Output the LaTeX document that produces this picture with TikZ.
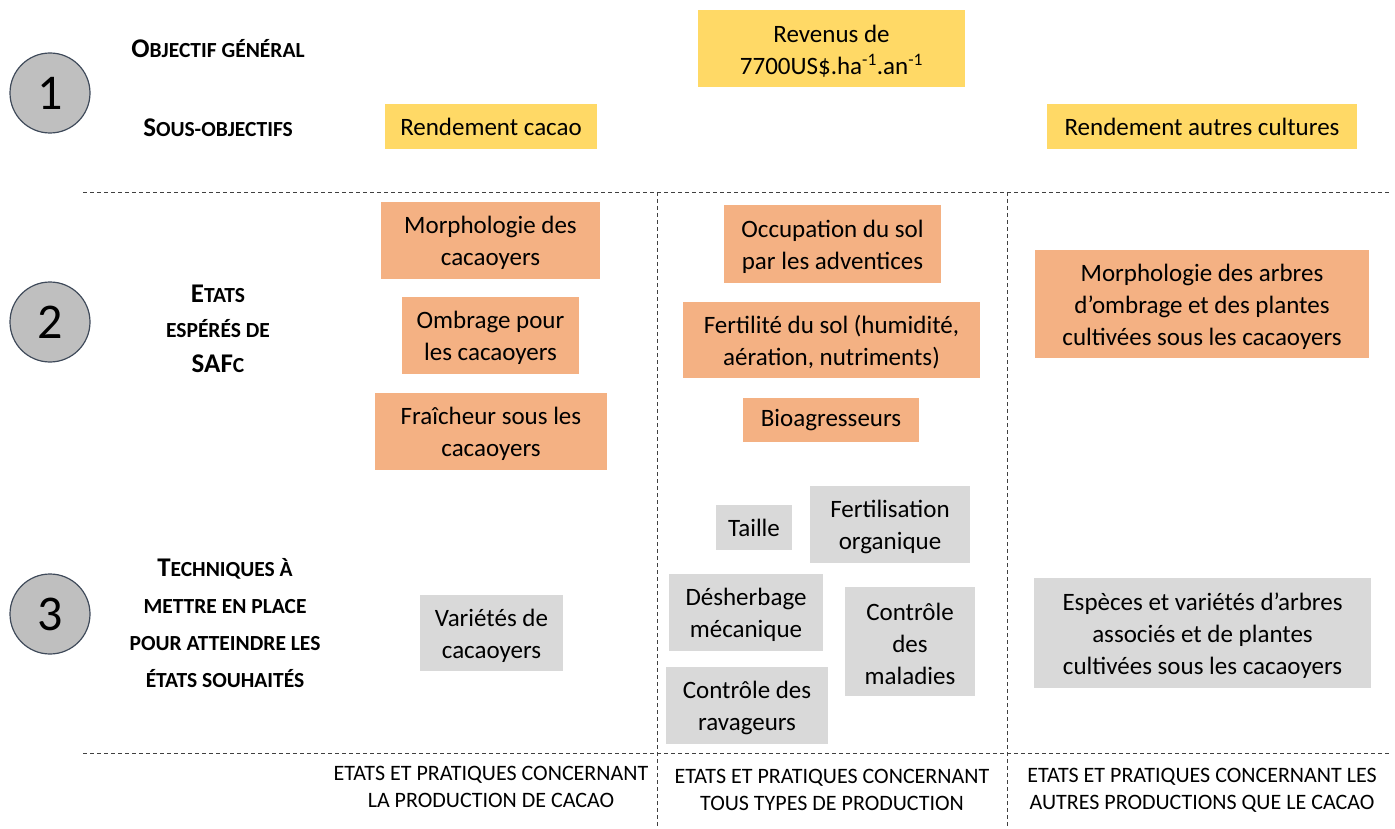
\documentclass[tikz,border=0pt]{standalone}
\usepackage{fontspec}
\setmainfont{Carlito}
\definecolor{cyel}{HTML}{FFD966}
\definecolor{corg}{HTML}{F4B183}
\definecolor{cgry}{HTML}{D9D9D9}
\definecolor{ccirc}{HTML}{BFBFBF}
\definecolor{cedge}{HTML}{3F4A5A}
\newcommand\bigL[1]{{\fontsize{27}{37}\selectfont #1}}
\newcommand\tp{\rule{0pt}{22.5pt}}
\tikzset{
  box/.style={inner sep=0pt, align=center, font=\fontsize{25}{32}\selectfont},
  yel/.style={box, fill=cyel},
  org/.style={box, fill=corg},
  gry/.style={box, fill=cgry},
  num/.style={circle, draw=cedge, line width=1.2pt, fill=ccirc, minimum size=80pt, inner sep=0pt, font=\fontsize{50}{50}\selectfont},
  lab/.style={align=center, font=\bfseries\fontsize{21.5}{37}\selectfont},
  foot/.style={align=center, font=\fontsize{22}{27}\selectfont},
  sep/.style={draw=black!75, line width=0.8pt, dash pattern=on 4pt off 3pt},
}
\begin{document}
\begin{tikzpicture}[x=1pt,y=-1pt]
\useasboundingbox (0,0) rectangle (1395,829);
% separators
\coordinate (h1a) at (83,192); \coordinate (h1b) at (1390,192);
\coordinate (h2a) at (83,753); \coordinate (h2b) at (1390,753);
\coordinate (v1a) at (657,192); \coordinate (v1b) at (657,829);
\coordinate (v2a) at (1007,192); \coordinate (v2b) at (1007,829);
\draw[sep] (h1a) -- (h1b);
\draw[sep] (h2a) -- (h2b);
\draw[sep] (v1a) -- (v1b);
\draw[sep] (v2a) -- (v2b);
% circles
\node[num] (c1) at (50,93) {1};
\node[num] (c2) at (50,322) {2};
\node[num] (c3) at (50,614) {3};
% left labels
\node[lab] (l1) at (218,49) {\bigL{O}BJECTIF GÉNÉRAL};
\node[lab] (l2) at (218,128) {\bigL{S}OUS-OBJECTIFS};
\node[lab] (l3) at (218,329) {\bigL{E}TATS\\[-2pt]ESPÉRÉS DE\\[-2pt]\bigL{SAF}C};
\node[lab] (l4) at (225,623) {\bigL{T}ECHNIQUES À\\METTRE EN PLACE\\POUR ATTEINDRE LES\\ÉTATS SOUHAITÉS};
% level 1
\node[yel, minimum width=267pt, minimum height=77pt] (rev) at (831.5,48.5) {\tp Revenus de\\7700US\$.ha\textsuperscript{-1}.an\textsuperscript{-1}};
\node[yel, minimum width=212pt, minimum height=45pt] (rc) at (491,126.5) {Rendement cacao};
\node[yel, minimum width=310pt, minimum height=45pt] (rac) at (1202,126.5) {Rendement autres cultures};
% level 2
\node[org, minimum width=219pt, minimum height=77pt] (morph) at (490.5,240.5) {\tp Morphologie des\\cacaoyers};
\node[org, minimum width=177pt, minimum height=77pt] (ombr) at (490.5,335.5) {\tp Ombrage pour\\les cacaoyers};
\node[org, minimum width=232pt, minimum height=77pt] (frai) at (491,431.5) {\tp Fraîcheur sous les\\cacaoyers};
\node[org, minimum width=217pt, minimum height=78pt] (occ) at (832.5,244) {\tp Occupation du sol\\par les adventices};
\node[org, minimum width=297pt, minimum height=76pt] (fert) at (831.5,340) {\tp Fertilité du sol (humidité,\\aération, nutriments)};
\node[org, minimum width=176pt, minimum height=44pt] (bio) at (831,420) {Bioagresseurs};
\node[org, minimum width=334pt, minimum height=108pt] (marb) at (1202,304) {\tp Morphologie des arbres\\d’ombrage et des plantes\\cultivées sous les cacaoyers};
% level 3
\node[gry, minimum width=76pt, minimum height=45pt] (taille) at (754,527.5) {Taille};
\node[gry, minimum width=160pt, minimum height=77pt] (forg) at (890,524.5) {\tp Fertilisation\\organique};
\node[gry, minimum width=154pt, minimum height=77pt] (desh) at (746,612.5) {\tp Désherbage\\mécanique};
\node[gry, minimum width=130pt, minimum height=109pt] (cmal) at (910,641.5) {\tp Contrôle\\des\\maladies};
\node[gry, minimum width=162pt, minimum height=77pt] (crav) at (747,705.5) {\tp Contrôle des\\ravageurs};
\node[gry, minimum width=143pt, minimum height=76pt] (var) at (491.5,633) {\tp Variétés de\\cacaoyers};
\node[gry, minimum width=337pt, minimum height=110pt] (esp) at (1202.5,633) {\tp Espèces et variétés d’arbres\\associés et de plantes\\cultivées sous les cacaoyers};
% footers
\node[foot] (f1) at (491,787) {ETATS ET PRATIQUES CONCERNANT\\LA PRODUCTION DE CACAO};
\node[foot] (f2) at (832,790) {ETATS ET PRATIQUES CONCERNANT\\TOUS TYPES DE PRODUCTION};
\node[foot] (f3) at (1202,790) {ETATS ET PRATIQUES CONCERNANT LES\\AUTRES PRODUCTIONS QUE LE CACAO};
\end{tikzpicture}
\end{document}
